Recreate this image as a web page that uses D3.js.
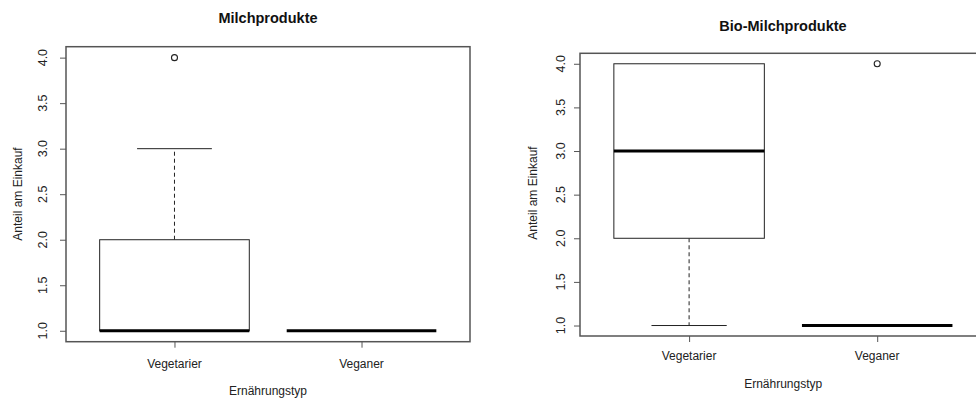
<!DOCTYPE html>
<html><head><meta charset="utf-8">
<script src="https://cdn.jsdelivr.net/npm/d3@7"></script>
<style>
html,body{margin:0;padding:0;background:#fff;}
svg{display:block;font-family:"Liberation Sans",Arial,Helvetica,sans-serif;}
</style></head>
<body>
<svg id="chart" width="976" height="401"></svg>
<script>
// ---- data ----
const categories = ["Vegetarier", "Veganer"];
const yTicks = [1.0, 1.5, 2.0, 2.5, 3.0, 3.5, 4.0];

const milchLower   = [1, 1];
const milchQ1      = [1, 1];
const milchMedian  = [1, 1];
const milchQ3      = [2, 1];
const milchUpper   = [3, 1];
const milchOutliers = [[4], []];

const bioLower    = [1, 1];
const bioQ1       = [2, 1];
const bioMedian   = [3, 1];
const bioQ3       = [4, 1];
const bioUpper    = [4, 1];
const bioOutliers = [[], [4]];

const panels = [
  { title: "Milchprodukte", lower: milchLower, q1: milchQ1, med: milchMedian, q3: milchQ3, upper: milchUpper, out: milchOutliers,
    left: 66, right: 470, top: 46.7, bottom: 341.7, tickLabX: 47, yTitleX: 21.5, yTitleY: 194, titleY: 23, xLabY: 368, xTitleY: 395 },
  { title: "Bio-Milchprodukte", lower: bioLower, q1: bioQ1, med: bioMedian, q3: bioQ3, upper: bioUpper, out: bioOutliers,
    left: 580, right: 986.3, top: 53.3, bottom: 336, tickLabX: 565, yTitleX: 536.5, yTitleY: 193, titleY: 31, xLabY: 360, xTitleY: 388 }
];

const svg = d3.select("#chart");
const frameCol = "#555";
const lineCol = "#222";

panels.forEach(p => {
  const x = d3.scaleLinear().domain([0.42, 2.58]).range([p.left, p.right]);
  const y = d3.scaleLinear().domain([0.88, 4.12]).range([p.bottom, p.top]);
  const unit = x(2) - x(1);
  const g = svg.append("g");
  const cx = (xpos) => (p.left + p.right) / 2;

  // frame
  g.append("rect").attr("x", p.left).attr("y", p.top)
    .attr("width", p.right - p.left).attr("height", p.bottom - p.top)
    .attr("fill", "none").attr("stroke", frameCol).attr("stroke-width", 1.5);

  // y axis
  const yAxis = g.append("g").attr("transform", `translate(${p.left},0)`)
    .call(d3.axisLeft(y).tickValues(yTicks).tickSize(6).tickFormat(""));
  yAxis.select(".domain").remove();
  yAxis.selectAll(".tick line").attr("stroke", frameCol).attr("stroke-width", 1);
  yTicks.forEach(t => {
    g.append("text").attr("transform", `translate(${p.tickLabX},${y(t)}) rotate(-90)`)
      .attr("text-anchor", "middle").attr("font-size", 12.5).attr("fill", "#222")
      .text(d3.format(".1f")(t));
  });

  // x axis
  const xAxis = g.append("g").attr("transform", `translate(0,${p.bottom})`)
    .call(d3.axisBottom(x).tickValues([1, 2]).tickSize(6).tickFormat(""));
  xAxis.select(".domain").remove();
  xAxis.selectAll(".tick line").attr("stroke", frameCol).attr("stroke-width", 1);
  categories.forEach((c, i) => {
    g.append("text").attr("x", x(i + 1)).attr("y", p.xLabY)
      .attr("text-anchor", "middle").attr("font-size", 12).attr("fill", "#222").text(c);
  });

  // titles
  g.append("text").attr("x", (p.left + Math.min(p.right, 976 + 10)) / 2 + (p.right > 976 ? 0 : 0))
    .attr("y", p.titleY).attr("text-anchor", "middle").attr("font-size", 14.5)
    .attr("font-weight", "bold").attr("fill", "#111").text(p.title);
  g.append("text").attr("x", (p.left + p.right) / 2).attr("y", p.xTitleY)
    .attr("text-anchor", "middle").attr("font-size", 12).attr("fill", "#222").text("Ernährungstyp");
  g.append("text").attr("transform", `translate(${p.yTitleX},${p.yTitleY}) rotate(-90)`)
    .attr("text-anchor", "middle").attr("font-size", 12).attr("fill", "#222").text("Anteil am Einkauf");

  // boxes
  categories.forEach((c, i) => {
    const xc = x(i + 1);
    const bw = 0.4 * unit, cw = 0.2 * unit;
    // whiskers
    if (p.upper[i] > p.q3[i]) {
      g.append("line").attr("x1", xc).attr("x2", xc).attr("y1", y(p.q3[i])).attr("y2", y(p.upper[i]))
        .attr("stroke", lineCol).attr("stroke-dasharray", "4,3");
    }
    if (p.lower[i] < p.q1[i]) {
      g.append("line").attr("x1", xc).attr("x2", xc).attr("y1", y(p.q1[i])).attr("y2", y(p.lower[i]))
        .attr("stroke", lineCol).attr("stroke-dasharray", "4,3");
    }
    if (p.upper[i] !== p.q3[i]) {
      g.append("line").attr("x1", xc - cw).attr("x2", xc + cw).attr("y1", y(p.upper[i])).attr("y2", y(p.upper[i]))
        .attr("stroke", lineCol);
    }
    if (p.lower[i] !== p.q1[i]) {
      g.append("line").attr("x1", xc - cw).attr("x2", xc + cw).attr("y1", y(p.lower[i])).attr("y2", y(p.lower[i]))
        .attr("stroke", lineCol);
    }
    // box
    if (p.q3[i] > p.q1[i]) {
      g.append("rect").attr("x", xc - bw).attr("y", y(p.q3[i]))
        .attr("width", 2 * bw).attr("height", y(p.q1[i]) - y(p.q3[i]))
        .attr("fill", "#fff").attr("stroke", lineCol).attr("stroke-width", 1);
    }
    // median
    g.append("line").attr("x1", xc - bw).attr("x2", xc + bw).attr("y1", y(p.med[i])).attr("y2", y(p.med[i]))
      .attr("stroke", "#000").attr("stroke-width", 3);
    // outliers
    p.out[i].forEach(v => {
      g.append("circle").attr("cx", xc).attr("cy", y(v)).attr("r", 3)
        .attr("fill", "none").attr("stroke", lineCol).attr("stroke-width", 1.1);
    });
  });
});

// fix right title position to match reference centering
</script>
</body></html>
